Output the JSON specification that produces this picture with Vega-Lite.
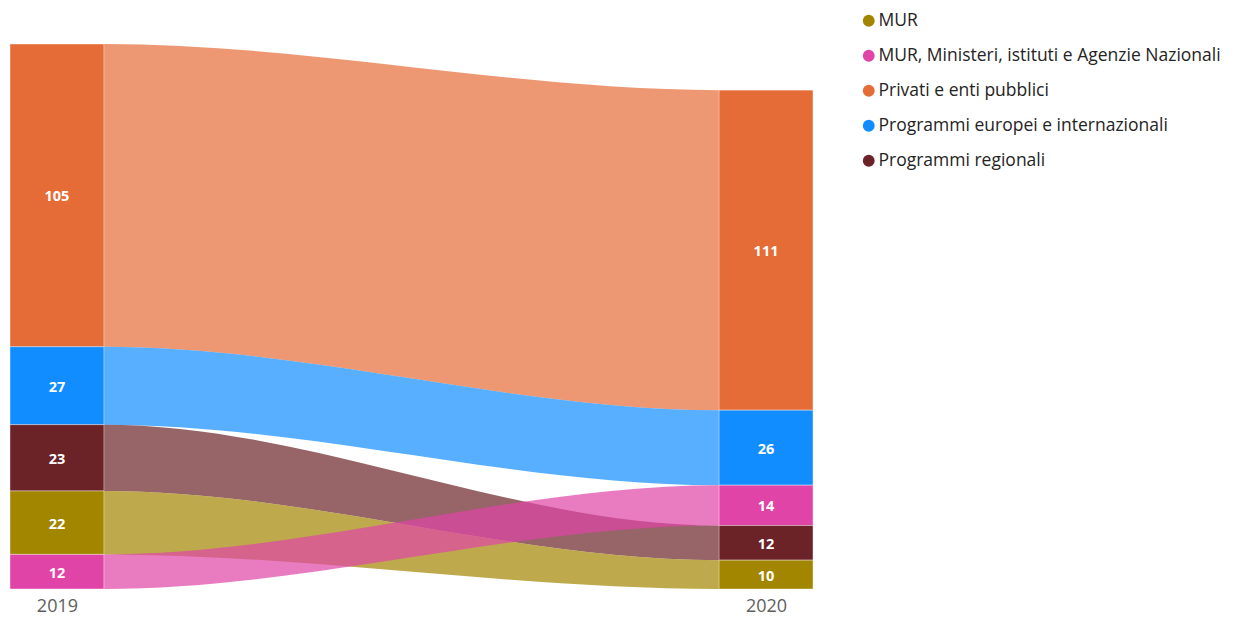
{
  "$schema": "https://vega.github.io/schema/vega-lite/v6.json",
  "width": 803,
  "height": 545,
  "autosize": {"type": "none"},
  "padding": {"left": 10, "top": 44, "right": 421, "bottom": 30},
  "background": "white",
  "config": {"view": {"stroke": null}, "font": "Open Sans"},
  "data": {
    "values": [
      {"year": 2019, "cat": "Privati e enti pubblici", "value": 105},
      {"year": 2019, "cat": "Programmi europei e internazionali", "value": 27},
      {"year": 2019, "cat": "Programmi regionali", "value": 23},
      {"year": 2019, "cat": "MUR", "value": 22},
      {"year": 2019, "cat": "MUR, Ministeri, istituti e Agenzie Nazionali", "value": 12},
      {"year": 2020, "cat": "Privati e enti pubblici", "value": 111},
      {"year": 2020, "cat": "Programmi europei e internazionali", "value": 26},
      {"year": 2020, "cat": "MUR, Ministeri, istituti e Agenzie Nazionali", "value": 14},
      {"year": 2020, "cat": "Programmi regionali", "value": 12},
      {"year": 2020, "cat": "MUR", "value": 10}
    ]
  },
  "transform": [
    {"stack": "value", "groupby": ["year"], "sort": [{"field": "value", "order": "ascending"}], "as": ["y0", "y1"]},
    {"calculate": "(datum.y0 + datum.y1) / 2", "as": "mid"},
    {"calculate": "datum.year - 0.0662", "as": "xl"},
    {"calculate": "datum.year + 0.0662", "as": "xr"}
  ],
  "layer": [
    {
      "transform": [{"fold": ["xl", "xr"], "as": ["edge", "xpos"]}],
      "mark": {"type": "area", "interpolate": "monotone", "opacity": 0.7},
      "encoding": {
        "x": {"field": "xpos", "type": "quantitative", "scale": {"domain": [2018.9338, 2020.0662], "nice": false, "zero": false},
              "axis": {"values": [2019, 2020], "format": "d", "title": null, "grid": false, "ticks": false, "domain": false, "labelFontSize": 18, "labelColor": "#605E5C", "labelPadding": 8, "labelFont": "Open Sans"}},
        "y": {"field": "y1", "type": "quantitative", "scale": {"domain": [0, 189], "nice": false}, "axis": null},
        "y2": {"field": "y0"},
        "detail": {"field": "cat"},
        "color": {
          "field": "cat",
          "type": "nominal",
          "scale": {
            "domain": ["MUR", "MUR, Ministeri, istituti e Agenzie Nazionali", "Privati e enti pubblici", "Programmi europei e internazionali", "Programmi regionali"],
            "range": ["#A38600", "#E044A7", "#E66C37", "#118DFF", "#6B2328"]
          },
          "legend": {
            "title": null,
            "orient": "none",
            "legendX": 850,
            "legendY": -32,
            "symbolType": "circle",
            "symbolSize": 140,
            "symbolOpacity": 1,
            "symbolStrokeWidth": 0,
            "labelFontSize": 17.5,
            "labelFont": "Open Sans",
            "labelColor": "#252423",
            "labelOffset": 1,
            "rowPadding": 16,
            "padding": 0,
            "labelLimit": 500
          }
        }
      }
    },
    {
      "mark": {"type": "rect", "stroke": "white", "strokeWidth": 0.4},
      "encoding": {
        "x": {"field": "xl", "type": "quantitative"},
        "x2": {"field": "xr"},
        "y": {"field": "y1", "type": "quantitative"},
        "y2": {"field": "y0"},
        "color": {"field": "cat", "type": "nominal"}
      }
    },
    {
      "mark": {"type": "text", "color": "white", "fontSize": 14.5, "fontWeight": "bold", "font": "Open Sans", "dy": 2},
      "encoding": {
        "x": {"field": "year", "type": "quantitative"},
        "y": {"field": "mid", "type": "quantitative"},
        "text": {"field": "value", "type": "quantitative"}
      }
    }
  ]
}
